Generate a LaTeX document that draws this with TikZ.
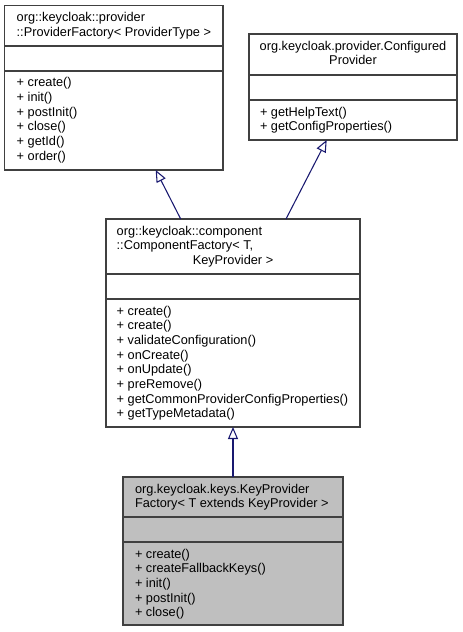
\documentclass[tikz,border=0pt]{standalone}
\usepackage{fontspec}
\setmainfont{Liberation Sans}
\usetikzlibrary{arrows.meta}
\definecolor{edge}{HTML}{191970}
\definecolor{frame}{HTML}{404040}
\definecolor{hl}{HTML}{BFBFBF}
\tikzset{
  classbox/.style={draw=frame, line width=1pt, fill=white, inner sep=0pt, outer sep=0pt, anchor=north west},
  sep/.style={draw=frame, line width=1pt},
  cell/.style={inner sep=0pt, outer sep=0pt, anchor=base west, font=\fontsize{9.57}{11}\selectfont},
  ccell/.style={cell, anchor=base},
  inherit/.style={draw=edge, line width=0.8pt, -{Triangle[open, fill=white, length=9pt, width=7.5pt]}},
}
\begin{document}
\begin{tikzpicture}[x=0.75pt, y=-0.75pt]
\useasboundingbox (0,0) rectangle (463,632);

% ProviderFactory
\node[classbox, minimum width=218.5*0.75pt, minimum height=164.5*0.75pt] (pf) at (4.5,5.5) {};
\draw[sep] (pf.west |- 0,46) -- (pf.east |- 0,46);
\draw[sep] (pf.west |- 0,71) -- (pf.east |- 0,71);
\node[cell] (pft) at (16.7,21.8) {\parbox[t]{240pt}{\raggedright org::keycloak::provider\\::ProviderFactory< ProviderType >}};
\node[cell] (pfm) at (16.7,86.8) {\parbox[t]{240pt}{\raggedright + create()\\+ init()\\+ postInit()\\+ close()\\+ getId()\\+ order()}};

% ConfiguredProvider
\node[classbox, minimum width=208*0.75pt, minimum height=106*0.75pt] (cp) at (249,34) {};
\draw[sep] (cp.west |- 0,75) -- (cp.east |- 0,75);
\draw[sep] (cp.west |- 0,100) -- (cp.east |- 0,100);
\node[ccell] (cpt) at (353,50.3) {\parbox[t]{150pt}{\centering org.keycloak.provider.Configured\\Provider}};
\node[cell] (cpm) at (260,116.3) {\parbox[t]{150pt}{\raggedright + getHelpText()\\+ getConfigProperties()}};

% ComponentFactory
\node[classbox, minimum width=254*0.75pt, minimum height=208*0.75pt] (cf) at (106,219) {};
\draw[sep] (cf.west |- 0,274) -- (cf.east |- 0,274);
\draw[sep] (cf.west |- 0,299) -- (cf.east |- 0,299);
\node[cell] (cft) at (116.7,235.3) {\parbox[t]{174.45pt}{\raggedright org::keycloak::component\\::ComponentFactory< T,\\\makebox[\linewidth]{KeyProvider >}}};
\node[cell] (cfm) at (116.7,315.3) {\parbox[t]{240pt}{\raggedright + create()\\+ create()\\+ validateConfiguration()\\+ onCreate()\\+ onUpdate()\\+ preRemove()\\+ getCommonProviderConfigProperties()\\+ getTypeMetadata()}};

% KeyProviderFactory
\node[classbox, fill=hl, minimum width=220*0.75pt, minimum height=148*0.75pt] (kp) at (123,477) {};
\draw[sep] (kp.west |- 0,517) -- (kp.east |- 0,517);
\draw[sep] (kp.west |- 0,542) -- (kp.east |- 0,542);
\node[cell] (kpt) at (135,493.3) {\parbox[t]{240pt}{\raggedright org.keycloak.keys.KeyProvider\\Factory< T extends KeyProvider >}};
\node[cell] (kpm) at (135,558.3) {\parbox[t]{240pt}{\raggedright + create()\\+ createFallbackKeys()\\+ init()\\+ postInit()\\+ close()}};

% inheritance connectors
\path (cf.north west) ++(74.7,0) coordinate (cfa);
\path (pf.south west) ++(151.2,0) coordinate (pfa);
\path (cf.north west) ++(180,0) coordinate (cfb);
\path (cp.south west) ++(77.7,0) coordinate (cpa);
\draw[inherit] (cfa) -- (pfa);
\draw[inherit] (cfb) -- (cpa);
\draw[inherit] (kp.north) -- (cf.south);
\end{tikzpicture}
\end{document}
